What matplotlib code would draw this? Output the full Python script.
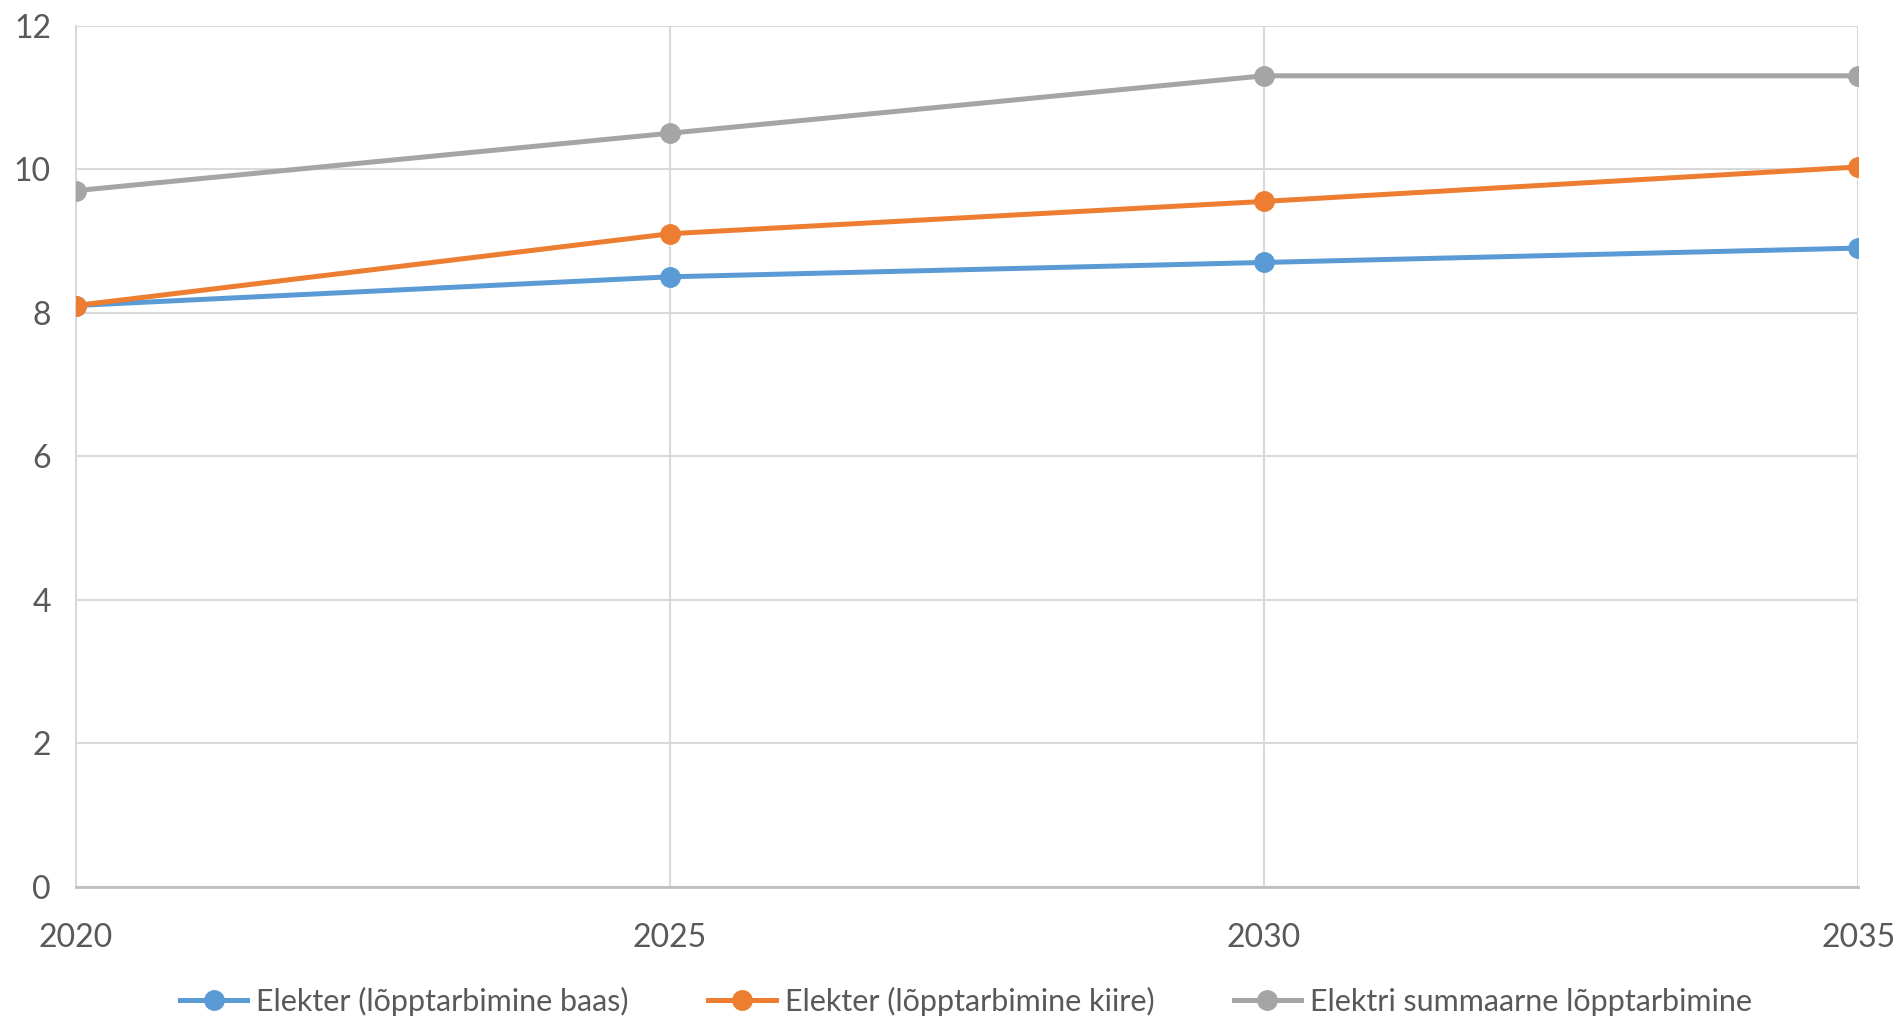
import matplotlib.pyplot as plt

plt.rcParams['font.family'] = ['Lato', 'DejaVu Sans']

years = [2020, 2025, 2030, 2035]
baas = [8.1, 8.5, 8.7, 8.9]
kiire = [8.1, 9.1, 9.55, 10.03]
summaarne = [9.7, 10.5, 11.3, 11.3]
labels = ['Elekter (lõpptarbimine baas)', 'Elekter (lõpptarbimine kiire)',
          'Elektri summaarne lõpptarbimine']
colors = ['#5B9BD5', '#ED7D31', '#A5A5A5']

fig = plt.figure(figsize=(18.98, 10.21), dpi=100)
ax = fig.add_axes([0.040, 0.1312, 0.939, 0.8438])

for vals, lab, c in zip([baas, kiire, summaarne], labels, colors):
    ax.plot(years, vals, color=c, lw=3.6, marker='o', ms=14, label=lab, zorder=3)

ax.set_xlim(2020, 2035)
ax.set_ylim(0, 12)
ax.set_xticks(years)
ax.set_yticks(range(0, 13, 2))
ax.grid(True, color='#D9D9D9', lw=1.5)
for s in ['top', 'right']:
    ax.spines[s].set_visible(False)
ax.spines['left'].set_color('#D9D9D9')
ax.spines['left'].set_linewidth(1.5)
ax.spines['bottom'].set_color('#BFBFBF')
ax.spines['bottom'].set_linewidth(2)
ax.tick_params(length=0, labelsize=23, labelcolor='#595959')
ax.tick_params(axis='x', pad=26)
ax.tick_params(axis='y', pad=18)

fig.legend(loc='center', bbox_to_anchor=(0.509, 0.019), ncol=3, frameon=False,
           fontsize=22, labelcolor='#595959', handlelength=2.2, handletextpad=0.3,
           columnspacing=2.6)

fig.savefig('out.png', dpi=100)
